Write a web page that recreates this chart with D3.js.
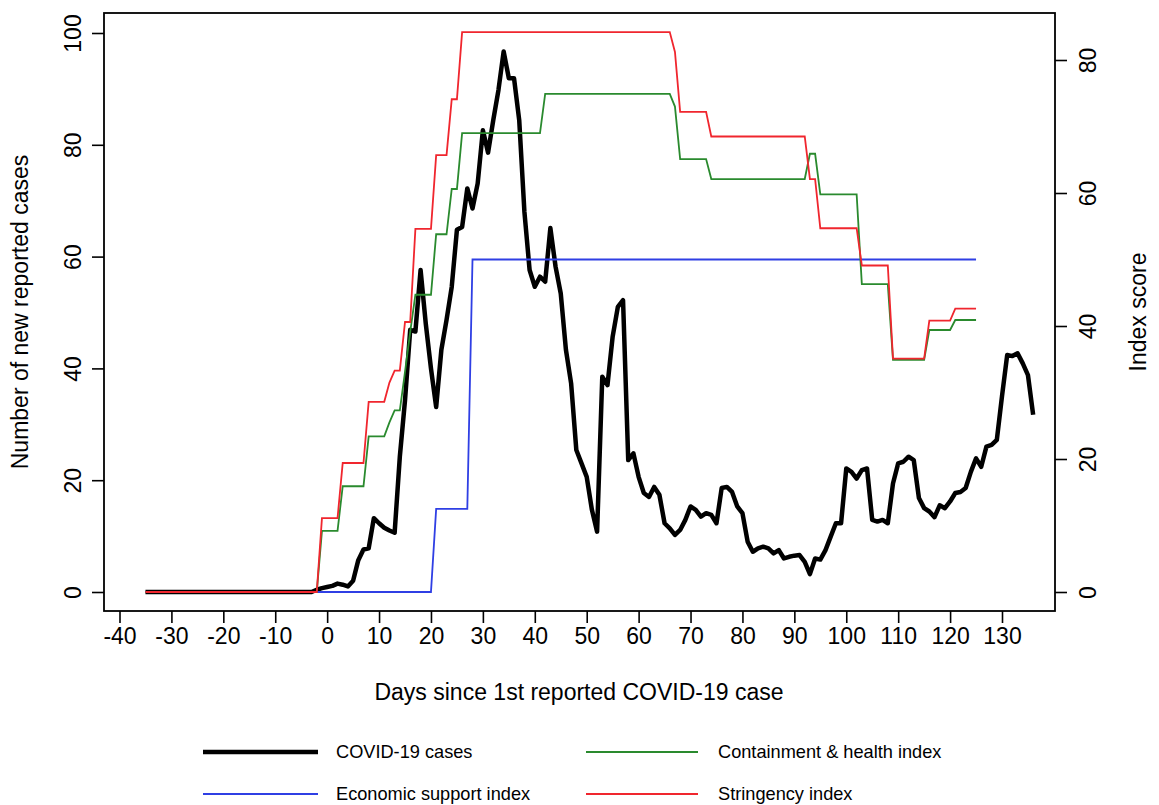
<!DOCTYPE html>
<html><head><meta charset="utf-8">
<script src="https://cdn.jsdelivr.net/npm/d3@7"></script>
<style>
body{margin:0;background:#fff}
svg{display:block}
text{font-family:"Liberation Sans", Arial, Helvetica, sans-serif; fill:#000}
</style>
</head><body>
<svg id="chart" width="1159" height="805"></svg>
<script>
// ---------- DATA ----------
const caseStartDay = -35;
const cases = [
  // days -35 .. -3
  0,0,0,0,0,0,0,0,0,0,0,0,0,0,0,0,0,0,0,0,0,0,0,0,0,0,0,0,0,0,0,0,0,
  // days -2 .. 9
  0.4,0.7,0.9,1.1,1.5,1.3,1.0,2.0,5.7,7.6,7.8,13.2,
  // days 10 .. 29
  12.3,11.5,11.0,10.6,24.2,34.3,46.9,46.6,57.6,48.0,40.0,33.1,43.3,48.7,54.6,64.8,65.3,72.2,68.6,73.1,
  // days 30 .. 49
  82.6,78.6,84.4,89.8,96.7,91.9,91.9,84.4,68.0,57.6,54.6,56.4,55.5,65.1,58.2,53.4,43.3,37.3,25.4,23.0,
  // days 50 .. 69
  20.6,14.7,10.8,38.5,37.0,45.7,51.0,52.2,23.6,24.8,20.6,17.7,17.0,18.8,17.4,12.3,11.4,10.2,11.1,12.9,
  // days 70 .. 89
  15.3,14.7,13.5,14.1,13.8,12.3,18.6,18.8,17.9,15.3,14.1,9.0,7.2,7.8,8.1,7.8,6.9,7.5,6.0,6.3,
  // days 90 .. 109
  6.5,6.6,5.4,3.2,6.0,5.8,7.5,9.9,12.3,12.3,22.1,21.5,20.3,21.8,22.1,12.9,12.6,12.9,12.3,19.4,
  // days 110 .. 129
  23.0,23.3,24.2,23.6,16.8,15.0,14.4,13.4,15.5,15.0,16.2,17.7,17.9,18.6,21.5,23.9,22.4,26.0,26.3,27.2,
  // days 130 .. 136
  35.0,42.4,42.2,42.7,40.9,38.8,31.7
];

// index series as [day, score] vertices
const stringency = [[-35,0],[-2,0],[-1,11.1],[2,11.1],[3,19.4],[7,19.4],[8,28.6],[11,28.6],[12,31.5],[13,33.3],[14,33.3],
  [15,40.6],[16,40.6],[17,54.6],[20,54.6],[21,65.7],[23,65.7],[24,74.1],[25,74.1],[26,84.2],[66,84.2],[67,81.2],[68,72.2],
  [73,72.2],[74,68.5],[92,68.5],[93,62.1],[94,62.1],[95,54.7],[102,54.7],[103,49.1],[108,49.1],[109,35.1],[115,35.1],
  [116,40.8],[120,40.8],[121,42.6],[125,42.6]];
const containment = [[-35,0],[-2,0],[-1,9.2],[2,9.2],[3,15.9],[7,15.9],[8,23.4],[11,23.4],[12,25.5],[13,27.3],[14,27.3],
  [15,33.1],[16,39.1],[17,44.7],[20,44.7],[21,53.8],[23,53.8],[24,60.6],[25,60.6],[26,69.0],[41,69.0],[42,74.9],[66,74.9],
  [67,73.0],[68,65.1],[73,65.1],[74,62.1],[92,62.1],[93,65.9],[94,65.9],[95,59.8],[102,59.8],[103,46.3],[108,46.3],
  [109,34.9],[115,34.9],[116,39.4],[120,39.4],[121,40.9],[125,40.9]];
const economic = [[-35,0],[20,0],[21,12.5],[27,12.5],[28,50],[125,50]];

const xTicks = [-40,-30,-20,-10,0,10,20,30,40,50,60,70,80,90,100,110,120,130];
const yLeftTicks = [0,20,40,60,80,100];
const yRightTicks = [0,20,40,60,80];

const xTitle = "Days since 1st reported COVID-19 case";
const yLeftTitle = "Number of new reported cases";
const yRightTitle = "Index score";
const legendItems = [
  {label:"COVID-19 cases", color:"#000000", width:4.5, col:0, row:0},
  {label:"Containment & health index", color:"#2a8a2e", width:1.8, col:1, row:0},
  {label:"Economic support index", color:"#2f3fe4", width:1.8, col:0, row:1},
  {label:"Stringency index", color:"#f0262e", width:1.8, col:1, row:1}
];

// ---------- LAYOUT ----------
const box = {left:104, right:1055, top:13, bottom:611};
const x = d3.scaleLinear().domain([-40,130]).range([119.5,1002]);
const yL = d3.scaleLinear().domain([0,100]).range([592,33]);
const yR = d3.scaleLinear().domain([0,80]).range([592,60]);

const svg = d3.select("#chart");
const FS = 23;

svg.append("defs").append("clipPath").attr("id","clip")
  .append("rect").attr("x",box.left).attr("y",box.top)
  .attr("width",box.right-box.left).attr("height",box.bottom-box.top);

const plot = svg.append("g").attr("clip-path","url(#clip)");

const caseData = cases.map((v,i)=>[caseStartDay+i, v]);
const lineL = d3.line().x(d=>x(d[0])).y(d=>yL(d[1]));
const lineR = d3.line().x(d=>x(d[0])).y(d=>yR(d[1]));

plot.append("path").datum(caseData).attr("d",lineL)
  .attr("fill","none").attr("stroke","#000").attr("stroke-width",4.5)
  .attr("stroke-linejoin","round").attr("stroke-linecap","butt");

[[economic,2],[containment,1],[stringency,3]].forEach(([data,k])=>{
  plot.append("path").datum(data).attr("d",lineR)
    .attr("fill","none").attr("stroke",legendItems[k].color).attr("stroke-width",1.8);
});

// box
svg.append("rect").attr("x",box.left).attr("y",box.top)
  .attr("width",box.right-box.left).attr("height",box.bottom-box.top)
  .attr("fill","none").attr("stroke","#000").attr("stroke-width",1.8);

// x axis
const gx = svg.append("g").attr("transform",`translate(0,${box.bottom})`)
  .call(d3.axisBottom(x).tickValues(xTicks).tickSize(12).tickFormat(d=>String(d)));
gx.select(".domain").remove();
gx.selectAll(".tick line").attr("stroke","#000").attr("stroke-width",1.6);
gx.selectAll(".tick text").attr("font-size",FS).attr("font-family","Liberation Sans, Arial, sans-serif")
  .attr("dy",null).attr("y",33).attr("fill","#000");

// left axis
const gl = svg.append("g").attr("transform",`translate(${box.left},0)`)
  .call(d3.axisLeft(yL).tickValues(yLeftTicks).tickSize(12).tickFormat(d=>String(d)));
gl.select(".domain").remove();
gl.selectAll(".tick line").attr("stroke","#000").attr("stroke-width",1.6);
gl.selectAll(".tick text").attr("font-size",FS).attr("font-family","Liberation Sans, Arial, sans-serif")
  .attr("x",0).attr("y",-23).attr("dy",null).attr("transform","rotate(-90)")
  .attr("text-anchor","middle").attr("fill","#000");

// right axis
const gr = svg.append("g").attr("transform",`translate(${box.right},0)`)
  .call(d3.axisRight(yR).tickValues(yRightTicks).tickSize(12).tickFormat(d=>String(d)));
gr.select(".domain").remove();
gr.selectAll(".tick line").attr("stroke","#000").attr("stroke-width",1.6);
gr.selectAll(".tick text").attr("font-size",FS).attr("font-family","Liberation Sans, Arial, sans-serif")
  .attr("x",0).attr("y",41).attr("dy",null).attr("transform","rotate(-90)")
  .attr("text-anchor","middle").attr("fill","#000");

// titles
svg.append("text").attr("x",579).attr("y",700)
  .attr("text-anchor","middle").attr("font-size",FS).text(xTitle);
svg.append("text").attr("transform",`translate(28,${(box.top+box.bottom)/2}) rotate(-90)`)
  .attr("text-anchor","middle").attr("font-size",FS).text(yLeftTitle);
svg.append("text").attr("transform",`translate(1146,${(box.top+box.bottom)/2}) rotate(-90)`)
  .attr("text-anchor","middle").attr("font-size",FS).text(yRightTitle);

// legend
const legCols = [{x1:203,x2:318,tx:336},{x1:586,x2:698,tx:718}];
const legRows = [752, 794];
const lg = svg.append("g");
legendItems.forEach(it=>{
  const c = legCols[it.col], yy = legRows[it.row];
  lg.append("line").attr("x1",c.x1).attr("x2",c.x2).attr("y1",yy).attr("y2",yy)
    .attr("stroke",it.color).attr("stroke-width",it.width);
  lg.append("text").attr("x",c.tx).attr("y",yy+6).attr("font-size",18.2).text(it.label);
});
</script>
</body></html>
